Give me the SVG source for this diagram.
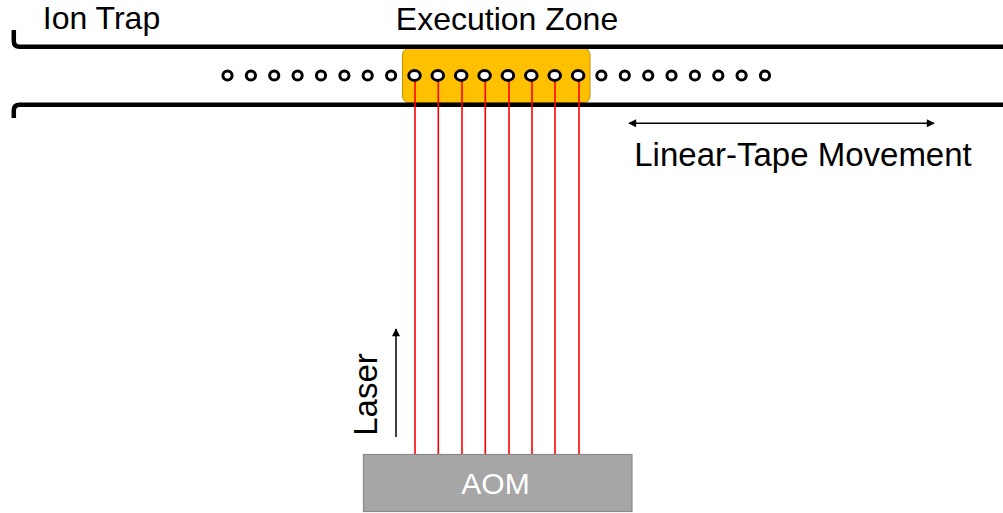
<svg xmlns="http://www.w3.org/2000/svg" width="1003" height="513" viewBox="0 0 1003 513">
  <style>
    .lbl { font-family: "Liberation Sans", Arial, sans-serif; font-size: 32px; fill: #000; }
    .lbl-lg { font-family: "Liberation Sans", Arial, sans-serif; font-size: 33px; fill: #000; }
    .aom-lbl { font-family: "Liberation Sans", Arial, sans-serif; font-size: 30px; fill: #fff; }
    .rail { fill: none; stroke: #000; stroke-width: 4.5; stroke-linecap: butt; }
    .ion { fill: #fff; stroke: #000; stroke-width: 3; }
    .beam { stroke: #ff0000; stroke-width: 1.6; }
    .arrow { stroke: #000; stroke-width: 1.5; fill: none; }
  </style>
  <defs>
    <marker id="head" viewBox="0 0 10 10" refX="9" refY="5" markerWidth="10" markerHeight="8" markerUnits="userSpaceOnUse" orient="auto-start-reverse">
      <path d="M0,0 L10,5 L0,10 Z" fill="#000"/>
    </marker>
  </defs>

  <rect width="1003" height="513" fill="#fff"/>

  <!-- execution zone highlight -->
  <g id="execution-zone">
    <rect x="402.5" y="48" width="187.5" height="55" rx="7" fill="#ffc000" stroke="#bf9000" stroke-width="1"/>
    <text class="lbl" x="507" y="30" text-anchor="middle">Execution Zone</text>
  </g>

  <!-- ion trap rails -->
  <g id="ion-trap">
    <path class="rail" d="M13.8,30 V41 Q13.8,46.8 19.6,46.8 H1003"/>
    <path class="rail" d="M13.8,118 V110.5 Q13.8,104.7 19.6,104.7 H1003"/>
    <text class="lbl" x="101.5" y="29" text-anchor="middle">Ion Trap</text>
  </g>

  <!-- laser beams from AOM to the ions in the zone -->
  <g id="connectors">
    <line class="beam" x1="415" y1="80" x2="415" y2="454"/>
    <line class="beam" x1="438.3" y1="80" x2="438.3" y2="454"/>
    <line class="beam" x1="462" y1="80" x2="462" y2="454"/>
    <line class="beam" x1="485.3" y1="80" x2="485.3" y2="454"/>
    <line class="beam" x1="509" y1="80" x2="509" y2="454"/>
    <line class="beam" x1="532" y1="80" x2="532" y2="454"/>
    <line class="beam" x1="555" y1="80" x2="555" y2="454"/>
    <line class="beam" x1="579" y1="80" x2="579" y2="454"/>
    <line class="arrow" x1="396" y1="437" x2="396" y2="329" marker-end="url(#head)"/>
    <line class="arrow" x1="629" y1="123.3" x2="934" y2="123.3" marker-start="url(#head)" marker-end="url(#head)"/>
  </g>

  <!-- ion chain -->
  <g id="ions">
    <circle class="ion" cx="227.5" cy="75.5" r="4.6"/>
    <circle class="ion" cx="250.9" cy="75.5" r="4.6"/>
    <circle class="ion" cx="274.2" cy="75.5" r="4.6"/>
    <circle class="ion" cx="297.6" cy="75.5" r="4.6"/>
    <circle class="ion" cx="321" cy="75.5" r="4.6"/>
    <circle class="ion" cx="344.4" cy="75.5" r="4.6"/>
    <circle class="ion" cx="367.7" cy="75.5" r="4.6"/>
    <circle class="ion" cx="391.1" cy="75.5" r="4.6"/>
    <ellipse class="ion" cx="414.5" cy="75.5" rx="5.8" ry="4.9"/>
    <ellipse class="ion" cx="437.8" cy="75.5" rx="5.8" ry="4.9"/>
    <ellipse class="ion" cx="461.2" cy="75.5" rx="5.8" ry="4.9"/>
    <ellipse class="ion" cx="484.6" cy="75.5" rx="5.8" ry="4.9"/>
    <ellipse class="ion" cx="507.9" cy="75.5" rx="5.8" ry="4.9"/>
    <ellipse class="ion" cx="531.3" cy="75.5" rx="5.8" ry="4.9"/>
    <ellipse class="ion" cx="554.7" cy="75.5" rx="5.8" ry="4.9"/>
    <ellipse class="ion" cx="578.1" cy="75.5" rx="5.8" ry="4.9"/>
    <circle class="ion" cx="601.4" cy="75.5" r="4.6"/>
    <circle class="ion" cx="624.8" cy="75.5" r="4.6"/>
    <circle class="ion" cx="648.2" cy="75.5" r="4.6"/>
    <circle class="ion" cx="671.5" cy="75.5" r="4.6"/>
    <circle class="ion" cx="694.9" cy="75.5" r="4.6"/>
    <circle class="ion" cx="718.3" cy="75.5" r="4.6"/>
    <circle class="ion" cx="741.6" cy="75.5" r="4.6"/>
    <circle class="ion" cx="765" cy="75.5" r="4.6"/>
  </g>

  <g id="tape-movement">
    <text class="lbl-lg" x="803" y="166" text-anchor="middle">Linear-Tape Movement</text>
  </g>

  <g id="laser">
    <text class="lbl-lg" transform="translate(377,394.5) rotate(-90)" text-anchor="middle">Laser</text>
  </g>

  <g id="aom">
    <rect x="363.5" y="454.5" width="268.5" height="57" fill="#a6a6a6" stroke="#8a8a8a" stroke-width="1.2"/>
    <text class="aom-lbl" x="495.5" y="494" text-anchor="middle">AOM</text>
  </g>
</svg>
